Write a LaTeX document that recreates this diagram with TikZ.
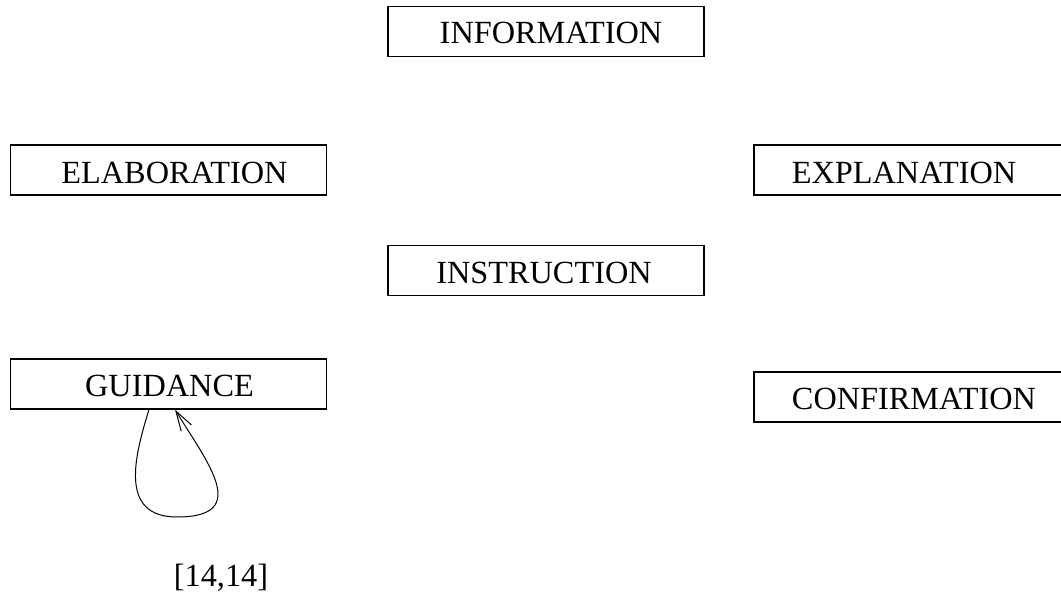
\documentclass[tikz,border=0pt]{standalone}
\usepackage{fontspec}
\setmainfont{Liberation Serif}
\usetikzlibrary{arrows.meta}
\begin{document}
\begin{tikzpicture}[x=1pt,y=-1pt,
  box/.style={draw=black,line width=1.1pt,minimum width=316pt,minimum height=50pt,inner sep=0pt},
  lbl/.style={font=\fontsize{32.3}{37}\selectfont,anchor=base,inner sep=0pt},
  loop/.style={draw=black,line width=1pt,-{Straight Barb[length=20pt,width=12pt,line width=1pt]}}]
  \useasboundingbox (0,0) rectangle (1061,593);

  % boxes
  \node[box] (info)  at (546,31.5)  {};
  \node[box] (elab)  at (168.5,170) {};
  \node[box] (expl)  at (912,170)   {};
  \node[box] (instr) at (546,270.5) {};
  \node[box] (guid)  at (168.5,384) {};
  \node[box] (conf)  at (912,397)   {};

  % box captions
  \node[lbl] (info-t)  at (551,43.3)   {INFORMATION};
  \node[lbl] (elab-t)  at (174.5,183.3) {ELABORATION};
  \node[lbl] (expl-t)  at (904,183.3)  {EXPLANATION};
  \node[lbl] (instr-t) at (544,284)    {INSTRUCTION};
  \node[lbl] (guid-t)  at (169.5,396.7) {GUIDANCE};
  \node[lbl] (conf-t)  at (914,410)    {CONFIRMATION};

  % self loop on GUIDANCE
  \draw[loop] ([xshift=-19.5pt]guid.south)
     .. controls (135,455) and (118,517) .. (177,517)
     .. controls (252,517) and (207,462) .. ([xshift=6.5pt]guid.south);
  \node[lbl] (count) at (221,586) {[14,14]};
\end{tikzpicture}
\end{document}
